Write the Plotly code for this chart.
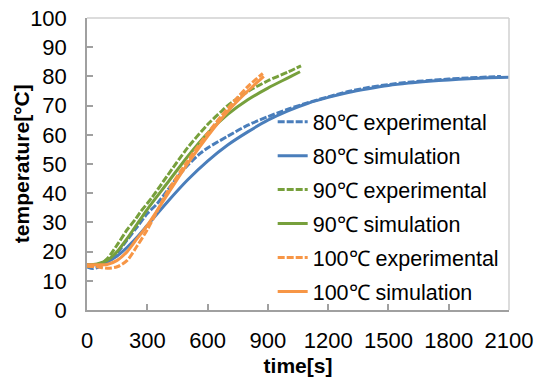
import plotly.graph_objects as go

# time [s] and temperature [°C]
t80_exp = [0, 30, 60, 100, 150, 200, 250, 300, 350, 400, 450, 500, 565, 600, 700, 800, 900, 1000, 1100, 1200, 1300, 1400, 1500, 1600, 1700, 1800, 1900, 2000, 2060]
v80_exp = [14.8, 14.2, 14.8, 16.5, 19.5, 24, 28.5, 33, 36.5, 41, 45.5, 49.5, 53.7, 55.5, 59.5, 63.3, 66.2, 68.8, 71, 73, 74.8, 76.2, 77.2, 78, 78.6, 79.1, 79.5, 79.8, 80]

t80_sim = [0, 50, 100, 150, 200, 250, 300, 400, 500, 600, 700, 800, 900, 1000, 1100, 1200, 1300, 1400, 1500, 1600, 1700, 1800, 1900, 2000, 2100]
v80_sim = [15.5, 15.6, 16.5, 18.5, 21.5, 25, 29, 37, 44.5, 51, 56.5, 61, 65, 68.2, 70.8, 72.8, 74.5, 75.8, 76.9, 77.7, 78.3, 78.8, 79.2, 79.5, 79.7]

t90_exp = [0, 30, 60, 100, 157, 200, 240, 265, 323, 400, 500, 600, 665, 700, 800, 900, 1000, 1065]
v90_exp = [15, 15, 15.5, 17.5, 23, 27.5, 31, 33.5, 38.5, 46, 55.5, 63.5, 67.8, 70, 74.8, 78.5, 81.5, 83.6]

t90_sim = [0, 50, 100, 150, 200, 250, 300, 400, 500, 600, 700, 800, 900, 1000, 1060]
v90_sim = [15.5, 15.8, 17, 20, 24.5, 29.5, 34.5, 43.5, 52.5, 60.5, 67, 72, 76, 79.5, 81.6]

t100_exp = [0, 50, 100, 150, 200, 250, 300, 350, 400, 500, 600, 700, 800, 875]
v100_exp = [15, 14.8, 14.3, 14.8, 17, 22, 27.5, 34, 40.5, 51, 60.5, 69, 76.5, 81]

t100_sim = [0, 50, 100, 150, 200, 250, 300, 400, 500, 600, 700, 800, 880]
v100_sim = [15.5, 15.5, 15.6, 17, 20, 24.5, 29, 39.5, 50, 59.5, 68, 75, 80]

x_ticks = [0, 300, 600, 900, 1200, 1500, 1800, 2100]
y_ticks = [0, 10, 20, 30, 40, 50, 60, 70, 80, 90, 100]

BLUE = "#4A7EBB"
GREEN = "#77A03C"
ORANGE = "#F79646"
DASH = "7px,2px"

series = [
    ("80℃ experimental", t80_exp, v80_exp, BLUE, DASH),
    ("80℃ simulation", t80_sim, v80_sim, BLUE, "solid"),
    ("90℃ experimental", t90_exp, v90_exp, GREEN, DASH),
    ("90℃ simulation", t90_sim, v90_sim, GREEN, "solid"),
    ("100℃ experimental", t100_exp, v100_exp, ORANGE, DASH),
    ("100℃ simulation", t100_sim, v100_sim, ORANGE, "solid"),
]

fig = go.Figure()
for i, (name, t, v, c, d) in enumerate(series):
    fig.add_trace(go.Scatter(
        x=t, y=v, name=name, mode="lines", legendgroup=str(i),
        line=dict(color=c, width=3, dash=d, shape="spline", smoothing=0.8),
    ))

FONT = "Liberation Sans, Arial, sans-serif"
axis_common = dict(
    showgrid=False, zeroline=False, showline=True, linecolor="#A0A0A0", linewidth=1.5,
    mirror=False, ticks="inside", ticklen=6, tickcolor="#A0A0A0", tickwidth=1.5,
    tickfont=dict(family=FONT, size=22, color="#000000"), automargin=False,
)
fig.update_layout(
    width=536, height=382,
    margin=dict(l=87, r=27, t=18, b=72),
    paper_bgcolor="white", plot_bgcolor="white",
    font=dict(family=FONT, size=21, color="#000000"),
    xaxis=dict(range=[0, 2100], tickvals=x_ticks, ticklabelstandoff=10,
               title=dict(text="<b>time[s]</b>", font=dict(family=FONT, size=21), standoff=6),
               **axis_common),
    yaxis=dict(range=[0, 100], tickvals=y_ticks, ticklabelstandoff=14, **axis_common),
    legend=dict(x=0.44, y=0.715, xanchor="left", yanchor="top", bgcolor="rgba(0,0,0,0)",
                font=dict(family=FONT, size=21.5), tracegroupgap=3, traceorder="grouped"),
    showlegend=True,
    annotations=[
        dict(text="<b>temperature[°C]</b>", xref="paper", yref="paper", x=-0.156, y=0.5,
             xanchor="center", yanchor="middle", textangle=-90, showarrow=False,
             font=dict(family=FONT, size=21, color="#000000")),
    ],
    shapes=[
        dict(type="line", xref="paper", yref="paper", x0=0, x1=1, y0=1, y1=1,
             line=dict(color="#D0D0D0", width=1.5)),
        dict(type="line", xref="paper", yref="paper", x0=1, x1=1, y0=0, y1=1,
             line=dict(color="#D0D0D0", width=1.5)),
    ],
)

fig.write_html("out.html", config={"displayModeBar": False},
               post_script="document.body.style.margin='0';document.body.style.padding='0';")
